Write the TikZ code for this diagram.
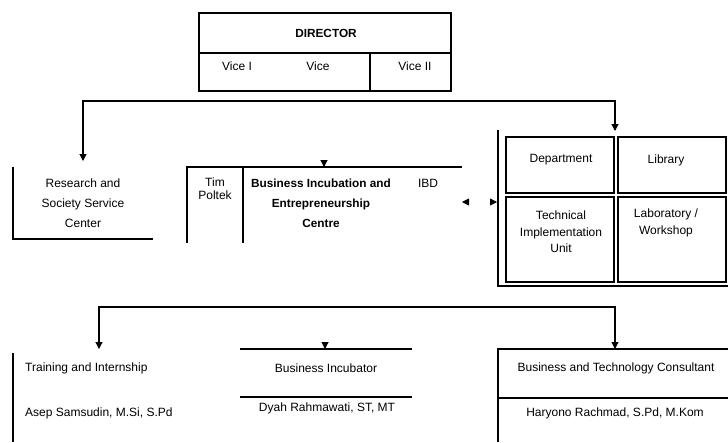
\documentclass[tikz,border=0pt]{standalone}
\usepackage{fontspec}
\setmainfont{Liberation Sans}
\usetikzlibrary{positioning,arrows.meta,calc}

\begin{document}
\begin{tikzpicture}[x=1pt,y=-1pt,
  lbl/.style={font=\fontsize{12}{20}\selectfont, align=center, inner sep=0pt},
  bld/.style={lbl, font=\fontsize{11.8}{20}\selectfont\bfseries},
  ln/.style={line width=1.1pt},
  conn/.style={line width=1.1pt, -{Triangle[length=7pt,width=7pt]}}]

  \useasboundingbox (0,0) rectangle (728,442);

  % director block
  \draw[ln] (199,13) rectangle (451,91);
  \draw[ln] (199,53) -- (451,53);
  \draw[ln] (370,53) -- (370,91);
  \node[bld] (dir) [] at (326,33) {DIRECTOR};
  \node[lbl] (vice1) [] at (237,66) {Vice I};
  \node[lbl] (vice) [] at (318,66) {Vice};
  \node[lbl] (vice2) [] at (415,66) {Vice II};

  % second row frames
  \draw[ln] (13,167) -- (13,239) -- (153,239);
  \draw[ln] (462,167) -- (187,167) -- (187,243);
  \draw[ln] (243,167) -- (243,243);
  \draw[ln] (498,130) -- (498,286) -- (728,286);
  \draw[ln] (506,137) rectangle (614,193);
  \draw[ln] (618,137) rectangle (726,193);
  \draw[ln] (506,197) rectangle (614,282);
  \draw[ln] (618,197) rectangle (726,282);

  \node[lbl] (rssc) [] at (83,203) {Research and\\Society Service\\Center};
  \node[lbl, font=\fontsize{12}{13}\selectfont] (tim) [] at (215,189) {Tim\\Poltek};
  \node[bld] (biec) [] at (321,203) {Business Incubation and\\Entrepreneurship\\Centre};
  \node[lbl] (ibd) [] at (428,183) {IBD};
  \node[lbl] (dept) [] at (561,160) {Department};
  \node[lbl] (lib) [] at (666,160) {Library};
  \node[lbl, font=\fontsize{12}{16.5}\selectfont] (tiu) [] at (561,232) {Technical\\Implementation\\Unit};
  \node[lbl, font=\fontsize{12}{16.5}\selectfont] (lab) [] at (666,223) {Laboratory /\\Workshop};

  % third row frames
  \draw[ln] (13,353) -- (13,442);
  \draw[ln] (240,349) -- (412,349);
  \draw[ln] (240,397) -- (412,397);
  \draw[ln] (728,349) -- (498,349) -- (498,442);
  \draw[ln] (498,398) -- (728,398);

  \node[lbl, anchor=west] (train) [] at (25,368) {Training and Internship};
  \node[lbl, anchor=west] (asep) [] at (25,413) {Asep Samsudin, M.Si, S.Pd};
  \node[lbl] (inc) [] at (326,368) {Business Incubator};
  \node[lbl] (dyah) [] at (327,408) {Dyah Rahmawati, ST, MT};
  \node[lbl] (btc) [] at (616,368) {Business and Technology Consultant};
  \node[lbl] (hary) [] at (615,413) {Haryono Rachmad, S.Pd, M.Kom};

  % connectors
  \coordinate (hub1) at (325,101);
  \coordinate (rs in) at (83,161);
  \coordinate (unit in) at (615,131);
  \coordinate (biec in) at (324,167);
  \coordinate (biec out) at (462,202);
  \coordinate (frame in) at (497,202);
  \draw[conn] (hub1) -| (rs in);
  \draw[conn] (hub1) -| (unit in);
  \draw[conn] ($(biec in)+(0,-7)$) -- (biec in);
  \draw[white, line width=0.8pt, {Triangle[black,length=7pt,width=7pt]}-{Triangle[black,length=7pt,width=7pt]}] (biec out) -- (frame in);

  \coordinate (hub2) at (325,307);
  \coordinate (train in) at (99,349);
  \coordinate (inc in) at (325,349);
  \coordinate (btc in) at (615,349);
  \draw[conn] (hub2) -| (train in);
  \draw[conn] (hub2) -| (btc in);
  \draw[conn] ($(inc in)+(0,-7)$) -- (inc in);

\end{tikzpicture}
\end{document}
